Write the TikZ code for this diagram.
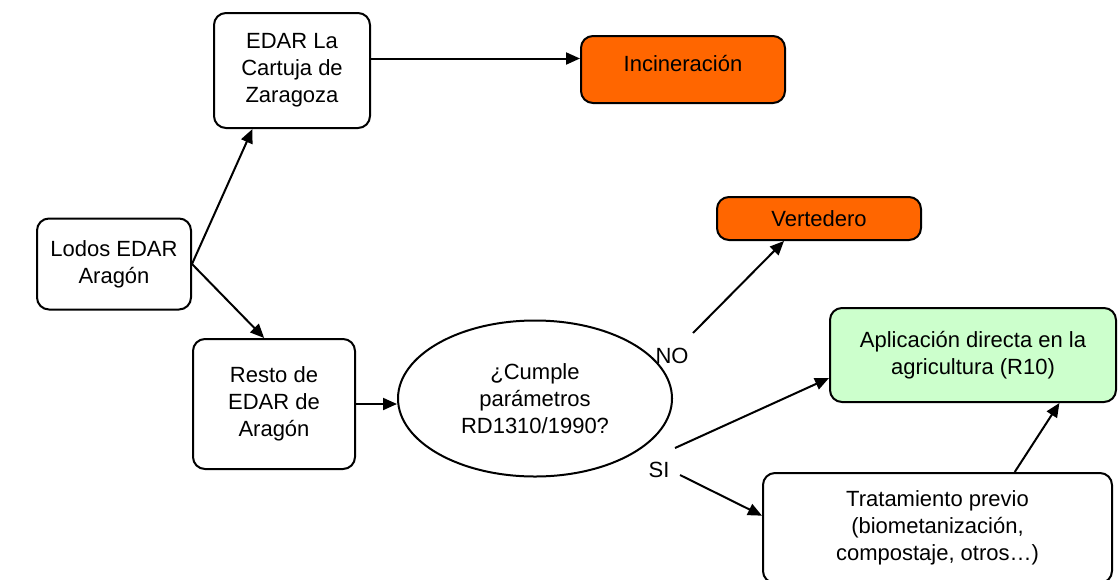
\documentclass[tikz,border=0pt]{standalone}
\usepackage{fontspec}
\setmainfont{Liberation Sans}
\usepackage{xcolor}
\usepackage{tikz}
\usetikzlibrary{shapes.geometric,arrows.meta,calc}
\definecolor{lodonaranja}{HTML}{FF6600}
\definecolor{lodoverde}{HTML}{CCFFCC}
\tikzset{
  edarbox/.style={rectangle, draw=black, fill=white, line width=1pt, rounded corners=6pt,
    align=center, font=\fontsize{11}{13.5}\selectfont, inner sep=2pt},
  destbox/.style={edarbox, fill=lodonaranja},
  agribox/.style={edarbox, fill=lodoverde},
  checkellipse/.style={ellipse, draw=black, fill=white, line width=1pt,
    align=center, font=\fontsize{11}{13.5}\selectfont, inner sep=0pt},
  flowarrow/.style={-{Triangle[length=7pt,width=6pt]}, draw=black, line width=1pt},
  answerlab/.style={font=\fontsize{11}{13}\selectfont, inner sep=1pt}
}

\begin{document}
\begin{tikzpicture}[x=0.5pt, y=-0.5pt]

  \useasboundingbox (0,0) rectangle (1118,579);
  \clip (0,0) rectangle (1118,579);

  % ============ Origen de los lodos ============
  \node[edarbox, minimum width=77pt, minimum height=45.5pt] (lodos) at (114,264)
    {Lodos EDAR\\Arag\'on};

  % ============ EDAR ============
  \node[edarbox, minimum width=78pt, minimum height=57.5pt] (cartuja) at (292,70.5)
    {EDAR La\\Cartuja de\\Zaragoza};
  \node[edarbox, minimum width=81pt, minimum height=65pt] (resto) at (274,404)
    {Resto de\\EDAR de\\Arag\'on};

  % ============ Destinos ============
  \node[destbox, minimum width=102pt, minimum height=33.5pt] (incin) at (683,69.5)
    {\raisebox{6pt}{Incineraci\'on}};
  \node[destbox, minimum width=102pt, minimum height=21.5pt] (verted) at (819,218.5)
    {Vertedero};
  \node[agribox, minimum width=143pt, minimum height=47pt] (aplic) at (973,355)
    {\raisebox{1pt}{Aplicaci\'on directa en la}\\\raisebox{1pt}{agricultura (R10)}};
  \node[edarbox, minimum width=174.5pt, minimum height=55pt] (trat) at (937.5,528)
    {Tratamiento previo\\(biometanizaci\'on,\\compostaje, otros\dots)};

  % ============ Decision ============
  \node[checkellipse, minimum width=137pt, minimum height=78pt] (cumple) at (535,398.5)
    {¿Cumple\\par\'ametros\\RD1310/1990?};

  % ============ Etiquetas NO / SI ============
  \node[answerlab] (no) at (672,356) {NO};
  \node[answerlab] (si) at (659,470) {SI};
  \coordinate (nostart) at (693,333);
  \coordinate (sitop)   at (675,448);
  \coordinate (sibot)   at (680,475);

  % ============ Flechas ============
  \draw[flowarrow] (lodos.east) --
    ($(cartuja.south west)!0.25!(cartuja.south east)$);
  \draw[flowarrow] (lodos.east) --
    ($(resto.north west)!0.44!(resto.north east)$);
  \draw[flowarrow] ($(cartuja.east)+(0,-12)$) -- ($(incin.west)+(0,-11)$);
  \draw[flowarrow] (resto.east) -- (cumple.west |- resto.east);

  % NO: hacia vertedero
  \draw[flowarrow] (nostart) --
    ($(verted.south west)!0.33!(verted.south east)$);

  % SI: aplicacion directa o tratamiento previo
  \draw[flowarrow] (sitop) --
    ($(aplic.north west)!0.74!(aplic.south west)$);
  \draw[flowarrow] (sibot) --
    ($(trat.north west)!0.39!(trat.south west)$);
  \draw[flowarrow] ($(trat.north west)!0.72!(trat.north east)$) --
    ($(aplic.south west)!0.80!(aplic.south east)$);

\end{tikzpicture}
\end{document}
